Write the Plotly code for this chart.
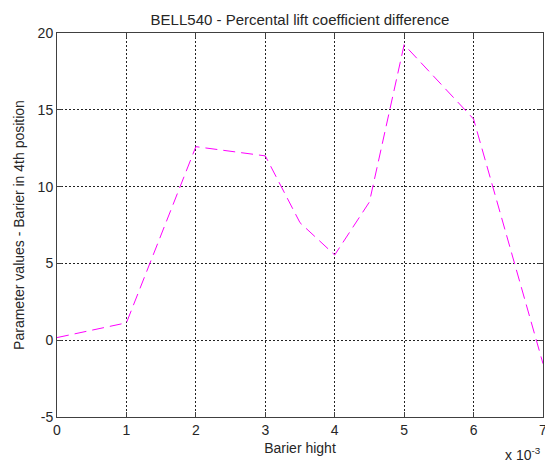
import plotly.graph_objects as go

# Data (x in units of 1e-3, as labelled on the axis)
x_values = [0, 1, 2, 3, 3.5, 4, 4.5, 5, 6, 7]
y_values = [0.17, 1.13, 12.6, 12.0, 7.65, 5.55, 9.0, 19.24, 14.4, -1.53]
x_tick_vals = [0, 1, 2, 3, 4, 5, 6, 7]
x_tick_text = ["0", "1", "2", "3", "4", "5", "6", "7"]
y_tick_vals = [-5, 0, 5, 10, 15, 20]
y_tick_text = ["-5", "0", "5", "10", "15", "20"]

FONT = "Arial, Liberation Sans, sans-serif"
TXT = "#262626"
AX = "#404040"

# The page body has an 8px margin, so the figure is sized to fit inside the window
W, H = 545, 456

fig = go.Figure()
fig.add_trace(go.Scatter(
    x=x_values, y=y_values, mode="lines",
    line=dict(color="#FF00FF", width=1, dash="12px,6px"),
    showlegend=False,
))

fig.update_layout(
    width=W, height=H,
    margin=dict(l=49, r=10, t=25, b=47, autoexpand=False),
    paper_bgcolor="white", plot_bgcolor="white",
    font=dict(family=FONT, size=14, color=TXT),
    title=dict(text="BELL540 - Percental lift coefficient difference",
               x=292 / W, xanchor="center", y=1 - 12 / H, yanchor="middle",
               font=dict(size=15, family=FONT, color=TXT)),
    annotations=[dict(text="x 10<sup>-3</sup>", xref="paper", yref="paper",
                      x=1.0, y=0, xanchor="right", yanchor="bottom", yshift=-48,
                      showarrow=False, font=dict(size=14, family=FONT, color=TXT))],
)

fig.update_xaxes(
    range=[0, 7], tickvals=x_tick_vals, ticktext=x_tick_text,
    tickfont=dict(size=14, family=FONT, color=TXT), ticklabeloverflow="allow",
    showgrid=True, gridcolor="#222222", griddash="2px,2px", gridwidth=1,
    showline=True, linecolor=AX, linewidth=1, mirror="allticks",
    ticks="inside", ticklen=5, tickcolor=AX, zeroline=False, automargin=False,
    title=dict(text="Barier hight", standoff=6, font=dict(size=14, family=FONT, color=TXT)),
)
fig.update_yaxes(
    range=[-5, 20], tickvals=y_tick_vals, ticktext=y_tick_text,
    tickfont=dict(size=14, family=FONT, color=TXT),
    showgrid=True, gridcolor="#222222", griddash="2px,2px", gridwidth=1,
    showline=True, linecolor=AX, linewidth=1, mirror="allticks",
    ticks="inside", ticklen=5, tickcolor=AX, zeroline=False, automargin=False,
    title=dict(text="Parameter values - Barier in 4th position", standoff=9,
               font=dict(size=14, family=FONT, color=TXT)),
)

fig.write_html("out.html")
